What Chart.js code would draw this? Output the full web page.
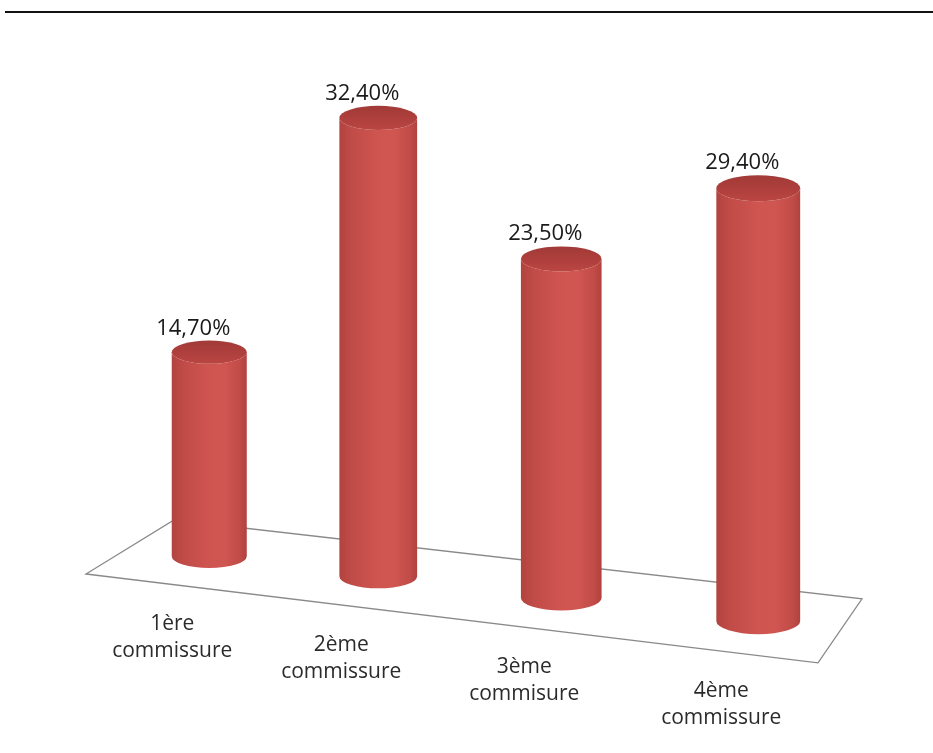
<!DOCTYPE html>
<html>
<head>
<meta charset="utf-8">
<script src="https://cdn.jsdelivr.net/npm/chart.js@4"></script>
<style>
  body { margin: 0; background: #fff; }
  #wrap { position: relative; width: 933px; height: 753px; }
  #topLine { position: absolute; left: 5px; right: 0; top: 11px; height: 0; border-top: 2px solid #111; }
  canvas { position: absolute; left: 0; top: 0; }
</style>
</head>
<body>
<div id="wrap">
  <div id="topLine"></div>
  <canvas id="chart" width="933" height="753"></canvas>
</div>
<script>
const categories = [
  ['1ère', 'commissure'],
  ['2ème', 'commissure'],
  ['3ème', 'commisure'],
  ['4ème', 'commissure']
];
const values = [14.7, 32.4, 23.5, 29.4];

// perspective look of the floor and cylinders
const SLOPE = 0.118;       // floor tilt
const WARP = 0.153;        // spacing grows toward the front
const H_PERSP = 0.00011;   // height grows toward the front
const W_PERSP = 0.000218;  // width grows toward the front
const FONT = '"Open Sans", "Noto Sans", sans-serif';

function fmt(v) {
  return v.toFixed(2).replace('.', ',') + '%';
}

function warpX(x, area) {
  const w = area.right - area.left;
  const t = (x - area.left) / w;
  return x - WARP * t * (1 - t) * w;
}

const floorPlugin = {
  id: 'floor',
  beforeDatasetsDraw(chart) {
    const ctx = chart.ctx;
    const area = chart.chartArea;
    const base0 = chart.scales.y.getPixelForValue(0);
    const floorY = x => base0 + SLOPE * (x - area.left);
    const lx = area.left, rx = area.right - 22;
    const corners = [
      [lx - 44, floorY(lx) + 27],
      [rx - 22, floorY(rx) + 32],
      [rx + 22, floorY(rx) - 32],
      [lx + 44, floorY(lx) - 27]
    ];
    ctx.save();
    ctx.beginPath();
    corners.forEach((c, i) => i ? ctx.lineTo(c[0], c[1]) : ctx.moveTo(c[0], c[1]));
    ctx.closePath();
    ctx.fillStyle = '#fff';
    ctx.fill();
    ctx.strokeStyle = '#8a8a8a';
    ctx.lineWidth = 1.3;
    ctx.stroke();
    ctx.restore();
  }
};

const cylinderPlugin = {
  id: 'cylinders',
  afterDatasetsDraw(chart) {
    const ctx = chart.ctx;
    const area = chart.chartArea;
    const base0 = chart.scales.y.getPixelForValue(0);
    const floorY = x => base0 + SLOPE * (x - area.left);
    const meta = chart.getDatasetMeta(0);

    meta.data.forEach((bar, i) => {
      const p = bar.getProps(['x', 'y', 'base', 'width'], true);
      const cx = warpX(p.x, area);
      const d = cx - area.left;
      const by = floorY(cx);
      const h = (p.base - p.y) * (1 + H_PERSP * d);
      const ty = by - h;
      const rx = p.width / 2 * (1 + W_PERSP * d);
      const ry = rx * 0.31;

      ctx.save();
      // body
      const g = ctx.createLinearGradient(cx - rx, 0, cx + rx, 0);
      g.addColorStop(0, '#b1433f');
      g.addColorStop(0.15, '#c04b47');
      g.addColorStop(0.5, '#cf5550');
      g.addColorStop(0.7, '#d05651');
      g.addColorStop(0.9, '#c24c48');
      g.addColorStop(1, '#b0423e');
      ctx.beginPath();
      ctx.moveTo(cx - rx, ty);
      ctx.lineTo(cx - rx, by);
      ctx.ellipse(cx, by, rx, ry, 0, Math.PI, 0, true);
      ctx.lineTo(cx + rx, ty);
      ctx.ellipse(cx, ty, rx, ry, 0, 0, Math.PI, false);
      ctx.closePath();
      ctx.fillStyle = g;
      ctx.fill();

      // top face
      const gt = ctx.createLinearGradient(0, ty - ry, 0, ty + ry);
      gt.addColorStop(0, '#a13a37');
      gt.addColorStop(0.6, '#b0403d');
      gt.addColorStop(1, '#bb4642');
      ctx.beginPath();
      ctx.ellipse(cx, ty, rx, ry, 0, 0, Math.PI * 2);
      ctx.fillStyle = gt;
      ctx.fill();

      // value label
      ctx.fillStyle = '#1a1a1a';
      ctx.font = '22px ' + FONT;
      ctx.textAlign = 'center';
      ctx.textBaseline = 'alphabetic';
      ctx.fillText(fmt(values[i]), cx - 16, ty - ry - 6);

      // category label on the front of the floor
      ctx.fillStyle = '#2b2b2b';
      ctx.font = '21px ' + FONT;
      const ly = by + 73 + 0.005 * d;
      categories[i].forEach((line, k) => {
        ctx.fillText(line, cx - 37, ly + k * 27);
      });
      ctx.restore();
    });
  }
};

new Chart(document.getElementById('chart'), {
  type: 'bar',
  data: {
    labels: categories,
    datasets: [{
      data: values,
      backgroundColor: 'rgba(0,0,0,0)',
      borderWidth: 0,
      categoryPercentage: 1,
      barPercentage: 0.403
    }]
  },
  options: {
    responsive: false,
    animation: false,
    layout: { padding: { left: 130, right: 71, top: 65, bottom: 206 } },
    plugins: { legend: { display: false }, tooltip: { enabled: false } },
    scales: {
      x: { display: false },
      y: { display: false, min: 0, max: 35 }
    }
  },
  plugins: [floorPlugin, cylinderPlugin]
});
</script>
</body>
</html>
